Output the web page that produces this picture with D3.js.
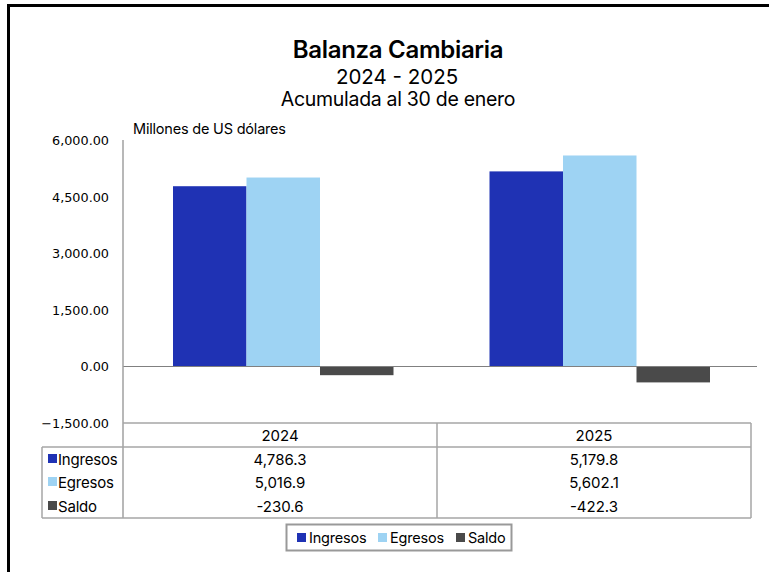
<!DOCTYPE html>
<meta charset="utf-8">
<script src="https://d3js.org/d3.v7.min.js"></script>
<style>
  body { margin: 0; background: #fff; }
  text { font-family: Inter, "Noto Sans", sans-serif; fill: #000; }
</style>
<div id="chart"></div>
<script>
// data
var years = ["2024", "2025"];
var series = ["Ingresos", "Egresos", "Saldo"];
var ingresos = [4786.3, 5179.8];
var egresos = [5016.9, 5602.1];
var saldo = [-230.6, -422.3];
var yTicks = [-1500, 0, 1500, 3000, 4500, 6000];
var colors = ["#1f32b4", "#9ed3f3", "#4a4a4a"];

var values = [ingresos, egresos, saldo];
var rows = [];
years.forEach(function (yr, i) {
  series.forEach(function (s, j) {
    rows.push({ year: yr, serie: s, value: values[j][i] });
  });
});

var W = 769, H = 572;
var svg = d3.select("#chart").append("svg")
  .attr("width", W).attr("height", H);

// frame (top + left edges only are visible)
svg.append("line").attr("x1", 8).attr("x2", W).attr("y1", 5.5).attr("y2", 5.5)
  .attr("stroke", "#000").attr("stroke-width", 3);
svg.append("line").attr("x1", 8.5).attr("x2", 8.5).attr("y1", 4).attr("y2", H)
  .attr("stroke", "#000").attr("stroke-width", 3);

// titles
svg.append("text").attr("x", 398).attr("y", 58).attr("text-anchor", "middle")
  .style("font-size", "24px").style("font-weight", 600).style("letter-spacing", "-0.3px")
  .text("Balanza Cambiaria");
svg.append("text").attr("x", 397).attr("y", 84).attr("text-anchor", "middle")
  .style("font-size", "20.5px").text("2024 - 2025");
svg.append("text").attr("x", 398).attr("y", 106).attr("text-anchor", "middle")
  .style("font-size", "19.5px").style("letter-spacing", "-0.3px").text("Acumulada al 30 de enero");
svg.append("text").attr("x", 133).attr("y", 134)
  .style("font-size", "14.5px").style("letter-spacing", "-0.2px").text("Millones de US dólares");

// scales
var y = d3.scaleLinear().domain([-1500, 6000]).range([423, 140.5]);
var x0 = d3.scaleBand().domain(years).range([123, 756]);
var x1 = d3.scaleBand().domain(series).range([50, x0.bandwidth() - 46]);
var tableX = d3.scaleBand().domain(years).range([123, 751]);

// y axis labels
var yAxis = svg.append("g").attr("transform", "translate(123,0)")
  .call(d3.axisLeft(y).tickValues(yTicks).tickFormat(d3.format(",.2f")).tickSize(0).tickPadding(14));
yAxis.select(".domain").remove();
yAxis.selectAll("text").style("font-family", "'DejaVu Sans', sans-serif")
  .style("font-size", "12.8px").attr("fill", "#111");

// bars
svg.append("g").selectAll("rect")
  .data(rows)
  .enter()
  .append("rect")
  .attr("x", function (d) { return x0(d.year) + x1(d.serie); })
  .attr("width", x1.bandwidth())
  .attr("y", function (d) { return y(Math.max(0, d.value)); })
  .attr("height", function (d) { return Math.abs(y(d.value) - y(0)); })
  .attr("fill", function (d) { return colors[series.indexOf(d.serie)]; });

// zero line
svg.append("line").attr("x1", 123).attr("x2", 757).attr("y1", y(0)).attr("y2", y(0))
  .attr("stroke", "#808080").attr("stroke-width", 1.2);

// axis line + data table
var gridColor = "#a6a6a6";
var tTop = y(-1500), tHead = 447, tBot = 518, tLeft = 42, tRight = 751;
var rowY = [459, 482, 506];
var tbl = svg.append("g").attr("stroke", gridColor).attr("stroke-width", 1.5);
tbl.append("line").attr("x1", 123).attr("x2", 123).attr("y1", 140).attr("y2", tBot).attr("stroke", "#a0a0a0");
tbl.append("line").attr("x1", 123).attr("x2", tRight).attr("y1", tTop).attr("y2", tTop);
tbl.append("line").attr("x1", tLeft).attr("x2", tRight).attr("y1", tHead).attr("y2", tHead);
tbl.append("line").attr("x1", tLeft).attr("x2", tRight).attr("y1", tBot).attr("y2", tBot);
tbl.append("line").attr("x1", tLeft).attr("x2", tLeft).attr("y1", tHead).attr("y2", tBot);
years.forEach(function (yr) {
  var xe = tableX(yr) + tableX.bandwidth();
  tbl.append("line").attr("x1", xe).attr("x2", xe).attr("y1", tTop).attr("y2", tBot);
});

var fmt = d3.format(",.1f");
years.forEach(function (yr, i) {
  var cx = tableX(yr) + tableX.bandwidth() / 2;
  svg.append("text").attr("x", cx).attr("y", 441).attr("text-anchor", "middle")
    .style("font-size", "15px").text(yr);
  series.forEach(function (s, j) {
    svg.append("text").attr("x", cx).attr("y", rowY[j] + 5.5).attr("text-anchor", "middle")
      .style("font-size", "15px").text(fmt(values[j][i]).replace("−", "-"));
  });
});
series.forEach(function (s, j) {
  svg.append("rect").attr("x", 48).attr("y", rowY[j] - 5).attr("width", 9).attr("height", 9)
    .attr("fill", colors[j]);
  svg.append("text").attr("x", 58).attr("y", rowY[j] + 5.5)
    .style("font-size", "15px").style("letter-spacing", "-0.2px").text(s);
});

// legend
var lg = svg.append("g");
lg.append("rect").attr("x", 286.5).attr("y", 524.5).attr("width", 225).attr("height", 26)
  .attr("fill", "#fff").attr("stroke", "#999").attr("stroke-width", 2);
var legX = [297, 378, 456];
series.forEach(function (s, j) {
  lg.append("rect").attr("x", legX[j]).attr("y", 533).attr("width", 9).attr("height", 9)
    .attr("fill", colors[j]);
  lg.append("text").attr("x", legX[j] + 12).attr("y", 543)
    .style("font-size", "14.5px").style("letter-spacing", "-0.2px").text(s);
});
</script>
